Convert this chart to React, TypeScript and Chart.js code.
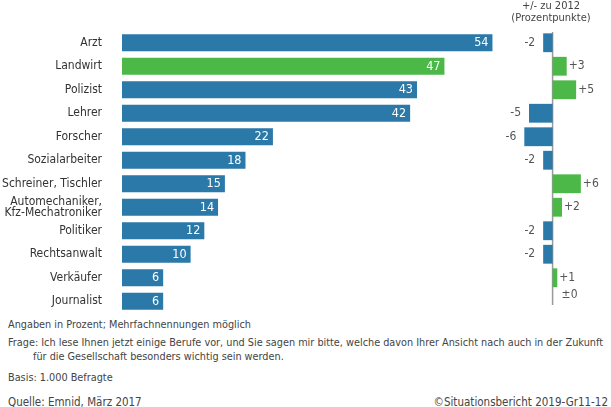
import React, { useEffect, useRef } from "react";
import { Chart, registerables } from "chart.js";

Chart.register(...registerables);

const categories: (string | string[])[] = [
  "Arzt",
  "Landwirt",
  "Polizist",
  "Lehrer",
  "Forscher",
  "Sozialarbeiter",
  "Schreiner, Tischler",
  ["Automechaniker,", "Kfz-Mechatroniker"],
  "Politiker",
  "Rechtsanwalt",
  "Verkäufer",
  "Journalist",
];
const values2017 = [54, 47, 43, 42, 22, 18, 15, 14, 12, 10, 6, 6];
const highlight = [false, true, false, false, false, false, false, false, false, false, false, false];
const changes = [-2, 3, 5, -5, -6, -2, 6, 2, -2, -2, 1, 0];
const changeLabels = ["-2", "+3", "+5", "-5", "-6", "-2", "+6", "+2", "-2", "-2", "+1", "±0"];

const BLUE = "#2a79a9";
const GREEN = "#4cb848";
const LABEL_FONT = "'DejaVu Sans Condensed', 'DejaVu Sans', sans-serif";
const NOTE_FONT = "'DejaVu Sans Condensed', 'DejaVu Sans', sans-serif";

export default function App() {
  const mainRef = useRef<HTMLCanvasElement>(null);
  const sideRef = useRef<HTMLCanvasElement>(null);

  useEffect(() => {
    document.body.style.margin = "0";
    const valuePlugin = {
      id: "valueLabels",
      afterDatasetsDraw(chart: any) {
        const ctx = chart.ctx;
        const meta = chart.getDatasetMeta(0);
        ctx.save();
        ctx.font = `12.5px ${LABEL_FONT}`;
        ctx.fillStyle = "#ffffff";
        ctx.textAlign = "right";
        ctx.textBaseline = "middle";
        meta.data.forEach((bar: any, i: number) => {
          ctx.fillText(String(values2017[i]), bar.x - 4, bar.y);
        });
        ctx.restore();
      },
    };
    const main = new Chart(mainRef.current!, {
      type: "bar",
      data: {
        labels: categories,
        datasets: [
          {
            data: values2017,
            backgroundColor: highlight.map((h) => (h ? GREEN : BLUE)),
            barPercentage: 0.73,
            categoryPercentage: 1,
          },
        ],
      },
      options: {
        indexAxis: "y",
        animation: false,
        responsive: false,
        layout: { padding: { top: 31, bottom: 3, left: 0, right: 0 } },
        plugins: { legend: { display: false }, tooltip: { enabled: false } },
        scales: {
          x: { display: false, min: 0, max: 55.1 },
          y: {
            grid: { display: false },
            border: { display: false },
            ticks: {
              autoSkip: false,
              padding: 12,
              color: "#333333",
              font: { family: LABEL_FONT, size: 12, lineHeight: 0.95 },
            },
            afterFit: (s: any) => {
              s.width = 122;
              s.paddingTop = 0;
              s.paddingBottom = 0;
            },
          },
        },
      },
      plugins: [valuePlugin],
    });

    const sidePlugin = {
      id: "sideLabels",
      beforeDatasetsDraw(chart: any) {
        const ctx = chart.ctx;
        const x0 = chart.scales.x.getPixelForValue(0);
        ctx.save();
        ctx.strokeStyle = "#9a9a9a";
        ctx.lineWidth = 1.5;
        ctx.beginPath();
        ctx.moveTo(x0, chart.chartArea.top + 1);
        ctx.lineTo(x0, chart.chartArea.bottom - 8);
        ctx.stroke();
        ctx.restore();
      },
      afterDatasetsDraw(chart: any) {
        const ctx = chart.ctx;
        const meta = chart.getDatasetMeta(0);
        const x0 = chart.scales.x.getPixelForValue(0);
        ctx.save();
        ctx.font = `12px ${LABEL_FONT}`;
        ctx.fillStyle = "#555555";
        ctx.textBaseline = "middle";
        meta.data.forEach((bar: any, i: number) => {
          const v = changes[i];
          if (v < 0) {
            ctx.textAlign = "right";
            ctx.fillText(changeLabels[i], bar.x - 8, bar.y);
          } else if (v > 0) {
            ctx.textAlign = "left";
            ctx.fillText(changeLabels[i], bar.x + 2, bar.y);
          } else {
            ctx.textAlign = "left";
            ctx.fillText(changeLabels[i], x0 + 9, bar.y - 6);
          }
        });
        ctx.restore();
      },
    };
    const side = new Chart(sideRef.current!, {
      type: "bar",
      data: {
        labels: categories.map((c) => (Array.isArray(c) ? c.join(" ") : c)),
        datasets: [
          {
            data: changes,
            backgroundColor: changes.map((v) => (v < 0 ? BLUE : GREEN)),
            barPercentage: 0.8,
            categoryPercentage: 1,
          },
        ],
      },
      options: {
        indexAxis: "y",
        animation: false,
        responsive: false,
        layout: { padding: { top: 31, bottom: 3, left: 0, right: 0 } },
        plugins: { legend: { display: false }, tooltip: { enabled: false } },
        scales: {
          x: { display: false, min: -10.1, max: 12.4 },
          y: { display: false },
        },
      },
      plugins: [sidePlugin],
    });

    return () => {
      main.destroy();
      side.destroy();
    };
  }, []);

  const note: React.CSSProperties = {
    position: "absolute",
    left: 8,
    fontFamily: NOTE_FONT,
    fontSize: 10.8,
    color: "#444",
    whiteSpace: "nowrap",
    lineHeight: "12px",
  };

  return (
    <div style={{ position: "relative", width: 611, height: 407, background: "#fff", overflow: "hidden" }}>
      <canvas ref={mainRef} width={500} height={316} style={{ position: "absolute", left: 0, top: 0 }} />
      <canvas ref={sideRef} width={106} height={316} style={{ position: "absolute", left: 505, top: 0 }} />
      <div
        style={{
          position: "absolute",
          left: 501,
          width: 100,
          top: 0,
          textAlign: "center",
          fontFamily: NOTE_FONT,
          fontSize: 11,
          lineHeight: "12px",
          color: "#444",
        }}
      >
        +/- zu 2012
        <br />
        (Prozentpunkte)
      </div>
      <div style={{ ...note, top: 319 }}>Angaben in Prozent; Mehrfachnennungen möglich</div>
      <div style={{ ...note, top: 337 }}>
        Frage: Ich lese Ihnen jetzt einige Berufe vor, und Sie sagen mir bitte, welche davon Ihrer Ansicht nach auch in der Zukunft
      </div>
      <div style={{ ...note, left: 33, top: 351 }}>für die Gesellschaft besonders wichtig sein werden.</div>
      <div style={{ ...note, top: 372 }}>Basis: 1.000 Befragte</div>
      <div style={{ ...note, top: 396, fontSize: 11.5 }}>Quelle: Emnid, März 2017</div>
      <div style={{ ...note, left: undefined, right: 3, top: 396, fontSize: 11.5 }}>©Situationsbericht 2019-Gr11-12</div>
    </div>
  );
}
